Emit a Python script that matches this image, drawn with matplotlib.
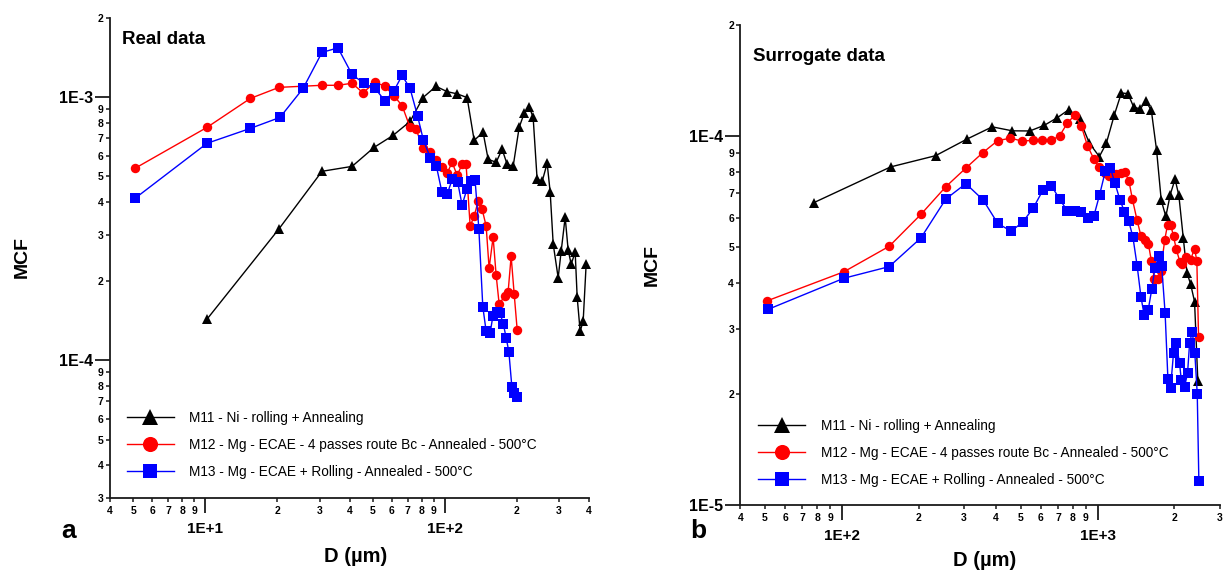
import numpy as np
import matplotlib
matplotlib.use("Agg")
import matplotlib.pyplot as plt

plt.rcParams['font.family'] = ['Liberation Sans', 'DejaVu Sans']

# ==========================
# DATA
# ==========================

LABELS = ["M11 - Ni - rolling + Annealing",
          "M12 - Mg - ECAE - 4 passes route Bc - Annealed - 500°C",
          "M13 - Mg - ECAE + Rolling - Annealed - 500°C"]

# --- panel a : real data (MCF in units of 1E-4)
real_m11_d = [10.2, 20.3, 30.7, 41.0, 50.7, 60.8, 71.6, 81.1, 91.9, 102.2, 112.6, 123.9, 132.6,
              144.5, 151.7, 163.8, 173.5, 182.1, 192.9, 204.4, 214.4, 224.9, 233.8, 242.9, 255.0,
              267.5, 275.4, 283.5, 297.4, 306.1, 318.1, 327.3, 337.0, 350.2, 357.0, 367.4, 378.2, 389.2]
real_m11_mcf = [1.44, 3.16, 5.23, 5.46, 6.45, 7.16, 8.09, 9.97, 11.0, 10.5, 10.3, 9.97, 6.86,
                7.35, 5.81, 5.66, 6.34, 5.56, 5.46, 7.68, 8.68, 9.22, 8.38, 4.88, 4.79,
                5.61, 4.36, 2.77, 2.06, 2.60, 3.50, 2.63, 2.32, 2.58, 1.74, 1.29, 1.41, 2.32]

real_m12_d = [5.09, 10.16, 15.4, 20.3, 30.7, 35.8, 41.0, 45.5, 51.2, 56.3, 61.4, 66.3, 71.6,
              75.9, 81.1, 86.8, 91.9, 97.4, 102.2, 107.3, 112.6, 118.1, 122.7, 127.6, 132.6,
              137.8, 143.1, 148.8, 153.1, 159.1, 163.8, 168.6, 178.6, 183.8, 189.2, 194.8, 200.5]
real_m12_mcf = [5.37, 7.68, 9.89, 10.9, 11.1, 11.1, 11.3, 10.4, 11.4, 11.0, 10.1, 9.30, 7.68,
                7.55, 6.39, 6.17, 5.76, 5.42, 5.14, 5.66, 5.05, 5.56, 5.56, 3.24, 3.53,
                4.03, 3.76, 3.24, 2.24, 2.94, 2.11, 1.64, 1.76, 1.82, 2.49, 1.79, 1.31]

real_m13_d = [5.09, 10.16, 15.4, 20.5, 25.6, 30.7, 35.8, 41.0, 45.9, 51.2, 56.3, 61.4, 66.3,
              71.6, 77.0, 81.4, 87.1, 92.2, 97.2, 102.4, 107.5, 113.1, 118.1, 123.6, 128.4,
              133.8, 138.7, 144.1, 148.8, 154.6, 158.7, 164.9, 170.2, 175.7, 180.3, 185.1,
              190.5, 195.3, 199.9]
real_m13_mcf = [4.13, 6.68, 7.61, 8.38, 10.8, 14.8, 15.4, 12.2, 11.3, 10.8, 9.67, 10.6, 12.1,
                10.8, 8.47, 6.87, 5.88, 5.48, 4.37, 4.30, 4.88, 4.77, 3.89, 4.47, 4.81,
                4.84, 3.17, 1.60, 1.29, 1.27, 1.47, 1.53, 1.51, 1.37, 1.22, 1.08,
                0.795, 0.752, 0.727]

# --- panel b : surrogate data (MCF in units of 1E-5)
surr_m11_d = [77.7, 155.0, 232.3, 308.5, 387.0, 463.8, 542.8, 618.4, 695.2, 772.4, 851.3, 928.9,
              1016, 1082, 1163, 1239, 1315, 1384, 1470, 1542, 1623, 1702, 1775, 1850, 1925,
              2010, 2080, 2164, 2239, 2311, 2396, 2468]
surr_m11_mcf = [6.61, 8.26, 8.86, 9.83, 10.61, 10.35, 10.34, 10.71, 11.23, 11.82, 11.11, 9.58,
                8.81, 9.57, 11.43, 13.11, 13.06, 12.01, 11.86, 12.47, 11.77, 9.16, 6.70, 6.06, 6.95,
                7.65, 6.91, 5.31, 4.25, 3.98, 3.56, 2.17]

surr_m12_d = [51.1, 101.8, 153.0, 203.6, 254.9, 305.2, 355.6, 407.1, 456.2, 507.6, 557.8, 608.5,
              659.9, 711.0, 762.1, 813.7, 864.5, 912.3, 965.5, 1013, 1066, 1112, 1184, 1233,
              1276, 1326, 1368, 1426, 1478, 1532, 1581, 1624, 1669, 1720, 1765, 1832, 1879,
              1936, 1983, 2032, 2099, 2141, 2226, 2311, 2396, 2446, 2484]
surr_m12_mcf = [3.58, 4.29, 5.03, 6.14, 7.30, 8.20, 9.03, 9.74, 9.88, 9.71, 9.75, 9.77,
                9.75, 10.04, 10.87, 11.41, 10.65, 9.44, 8.70, 8.25, 7.96, 7.82, 7.92, 7.96,
                8.00, 7.58, 6.76, 5.94, 5.37, 5.22, 5.10, 4.59, 4.09, 4.09, 4.30, 5.24, 5.76,
                5.73, 5.35, 4.94, 4.57, 4.50, 4.71, 4.62, 4.96, 4.59, 2.86]

surr_m13_d = [51.3, 101.8, 153.0, 203.6, 254.9, 305.2, 356.6, 407.1, 458.7, 508.5, 559.4, 611.9,
              659.9, 711.0, 762.1, 813.7, 864.5, 917.4, 968.0, 1019, 1072, 1123, 1169, 1223,
              1274, 1323, 1375, 1428, 1478, 1521, 1577, 1629, 1677, 1735, 1782, 1838, 1885,
              1931, 1983, 2032, 2094, 2126, 2190, 2250, 2291, 2347, 2402, 2455, 2491]
surr_m13_mcf = [3.39, 4.12, 4.43, 5.30, 6.76, 7.44, 6.72, 5.80, 5.53, 5.84, 6.38, 7.15,
                7.34, 6.75, 6.27, 6.28, 6.24, 5.99, 6.09, 6.95, 8.03, 8.19, 7.47, 6.73,
                6.24, 5.90, 5.33, 4.46, 3.67, 3.28, 3.37, 3.84, 4.38, 4.74, 4.45, 3.31, 2.19,
                2.08, 2.59, 2.74, 2.42, 2.18, 2.09, 2.28, 2.74, 2.95, 2.58, 2.00, 1.16]

# tick positions / labels
a_xmajor = [10, 100]
a_xmajor_lab = ["1E+1", "1E+2"]
a_xminor = [4, 5, 6, 7, 8, 9, 20, 30, 40, 50, 60, 70, 80, 90, 200, 300, 400]
a_xminor_lab = ["4", "5", "6", "7", "8", "9", "2", "3", "4", "5", "6", "7", "8", "9", "2", "3", "4"]
a_ymajor = [1e-4, 1e-3]
a_ymajor_lab = ["1E-4", "1E-3"]
a_yminor = [3e-5, 4e-5, 5e-5, 6e-5, 7e-5, 8e-5, 9e-5,
            2e-4, 3e-4, 4e-4, 5e-4, 6e-4, 7e-4, 8e-4, 9e-4, 2e-3]
a_yminor_lab = ["3", "4", "5", "6", "7", "8", "9",
                "2", "3", "4", "5", "6", "7", "8", "9", "2"]

b_xmajor = [100, 1000]
b_xmajor_lab = ["1E+2", "1E+3"]
b_xminor = [40, 50, 60, 70, 80, 90, 200, 300, 400, 500, 600, 700, 800, 900, 2000, 3000]
b_xminor_lab = ["4", "5", "6", "7", "8", "9", "2", "3", "4", "5", "6", "7", "8", "9", "2", "3"]
b_ymajor = [1e-5, 1e-4]
b_ymajor_lab = ["1E-5", "1E-4"]
b_yminor = [2e-5, 3e-5, 4e-5, 5e-5, 6e-5, 7e-5, 8e-5, 9e-5, 2e-4]
b_yminor_lab = ["2", "3", "4", "5", "6", "7", "8", "9", "2"]

COLORS = ["black", "#ff0000", "#0000ff"]
MARKERS = ["^", "o", "s"]
MSIZES = [7.5, 6.8, 6.6]

# ==========================
# FIGURE
# ==========================

fig = plt.figure(figsize=(12.27, 5.72), dpi=100)
W, H = 1227, 572


def px_axes(x0, y0, x1, y1):
    # pixel box (top-left origin) -> figure fraction
    return fig.add_axes([x0 / W, 1 - y1 / H, (x1 - x0) / W, (y1 - y0) / H])


def style_axis(ax, xlim, ylim, xmaj, xmajl, xmin, xminl, ymaj, ymajl, ymin, yminl):
    ax.set_xscale("log")
    ax.set_yscale("log")
    ax.set_xlim(*xlim)
    ax.set_ylim(*ylim)
    ax.set_xticks(xmaj, labels=xmajl)
    ax.set_xticks(xmin, labels=xminl, minor=True)
    ax.set_yticks(ymaj, labels=ymajl)
    ax.set_yticks(ymin, labels=yminl, minor=True)
    for s in ["top", "right"]:
        ax.spines[s].set_visible(False)
    for s in ["left", "bottom"]:
        ax.spines[s].set_linewidth(1.3)
        ax.spines[s].set_color("#1a1a1a")
    ax.tick_params(which="major", length=11, width=1.3, color="#1a1a1a")
    ax.tick_params(which="minor", length=3, width=1.1, color="#1a1a1a")
    ax.tick_params(axis="x", which="major", pad=6.5, labelsize=11)
    ax.tick_params(axis="x", which="minor", pad=3.0, labelsize=7.5)
    ax.tick_params(axis="y", which="major", pad=1.5, labelsize=11.5)
    ax.tick_params(axis="y", which="minor", pad=1.5, labelsize=7.5)
    for lab in ax.get_xticklabels(which="both") + ax.get_yticklabels(which="both"):
        lab.set_fontweight("bold")


def draw_series(ax, series):
    handles = []
    for (d, m), c, mk, ms, lab in zip(series, COLORS, MARKERS, MSIZES, LABELS):
        h, = ax.plot(d, m, color=c, marker=mk, markersize=ms, markeredgewidth=0,
                     linewidth=1.0, label=lab, clip_on=False)
        handles.append(h)
    return handles


# ---- panel a
axa = px_axes(110, 18, 589, 498)
style_axis(axa, (4, 400), (3e-5, 2e-3), a_xmajor, a_xmajor_lab, a_xminor, a_xminor_lab,
           a_ymajor, a_ymajor_lab, a_yminor, a_yminor_lab)
ha = draw_series(axa, [(real_m11_d, np.array(real_m11_mcf) * 1e-4),
                       (real_m12_d, np.array(real_m12_mcf) * 1e-4),
                       (real_m13_d, np.array(real_m13_mcf) * 1e-4)])
axa.legend(handles=ha, loc="center left", bbox_to_anchor=(0.035, 0.111), frameon=False,
           fontsize=9.8, markerscale=1.6, handlelength=3.45, handletextpad=1.15,
           labelspacing=0.95, borderpad=0, borderaxespad=0)
axa.text(0.026, 0.955, "Real data", transform=axa.transAxes, fontsize=13.5,
         fontweight="bold", va="center", ha="left")

# ---- panel b
axb = px_axes(740.3, 25.4, 1219.5, 504.8)
style_axis(axb, (40, 3000), (1e-5, 2e-4), b_xmajor, b_xmajor_lab, b_xminor, b_xminor_lab,
           b_ymajor, b_ymajor_lab, b_yminor, b_yminor_lab)
hb = draw_series(axb, [(surr_m11_d, np.array(surr_m11_mcf) * 1e-5),
                       (surr_m12_d, np.array(surr_m12_mcf) * 1e-5),
                       (surr_m13_d, np.array(surr_m13_mcf) * 1e-5)])
axb.legend(handles=hb, loc="center left", bbox_to_anchor=(0.037, 0.108), frameon=False,
           fontsize=9.8, markerscale=1.6, handlelength=3.45, handletextpad=1.15,
           labelspacing=0.95, borderpad=0, borderaxespad=0)
axb.text(0.026, 0.935, "Surrogate data", transform=axb.transAxes, fontsize=13.5,
         fontweight="bold", va="center", ha="left")

# ---- axis titles and panel letters
fig.text(22 / W, 1 - 257 / H, "MCF", rotation=90, fontsize=14, fontweight="bold",
         ha="center", va="center")
fig.text(652 / W, 1 - 265 / H, "MCF", rotation=90, fontsize=14, fontweight="bold",
         ha="center", va="center")
fig.text(356 / W, 1 - 557 / H, "D (µm)", fontsize=14.5, fontweight="bold",
         ha="center", va="center")
fig.text(985 / W, 1 - 561 / H, "D (µm)", fontsize=14.5, fontweight="bold",
         ha="center", va="center")
fig.text(69 / W, 1 - 531 / H, "a", fontsize=19, fontweight="bold", ha="center", va="center")
fig.text(698 / W, 1 - 531 / H, "b", fontsize=19, fontweight="bold", ha="center", va="center")

fig.savefig("out.png", dpi=100)
